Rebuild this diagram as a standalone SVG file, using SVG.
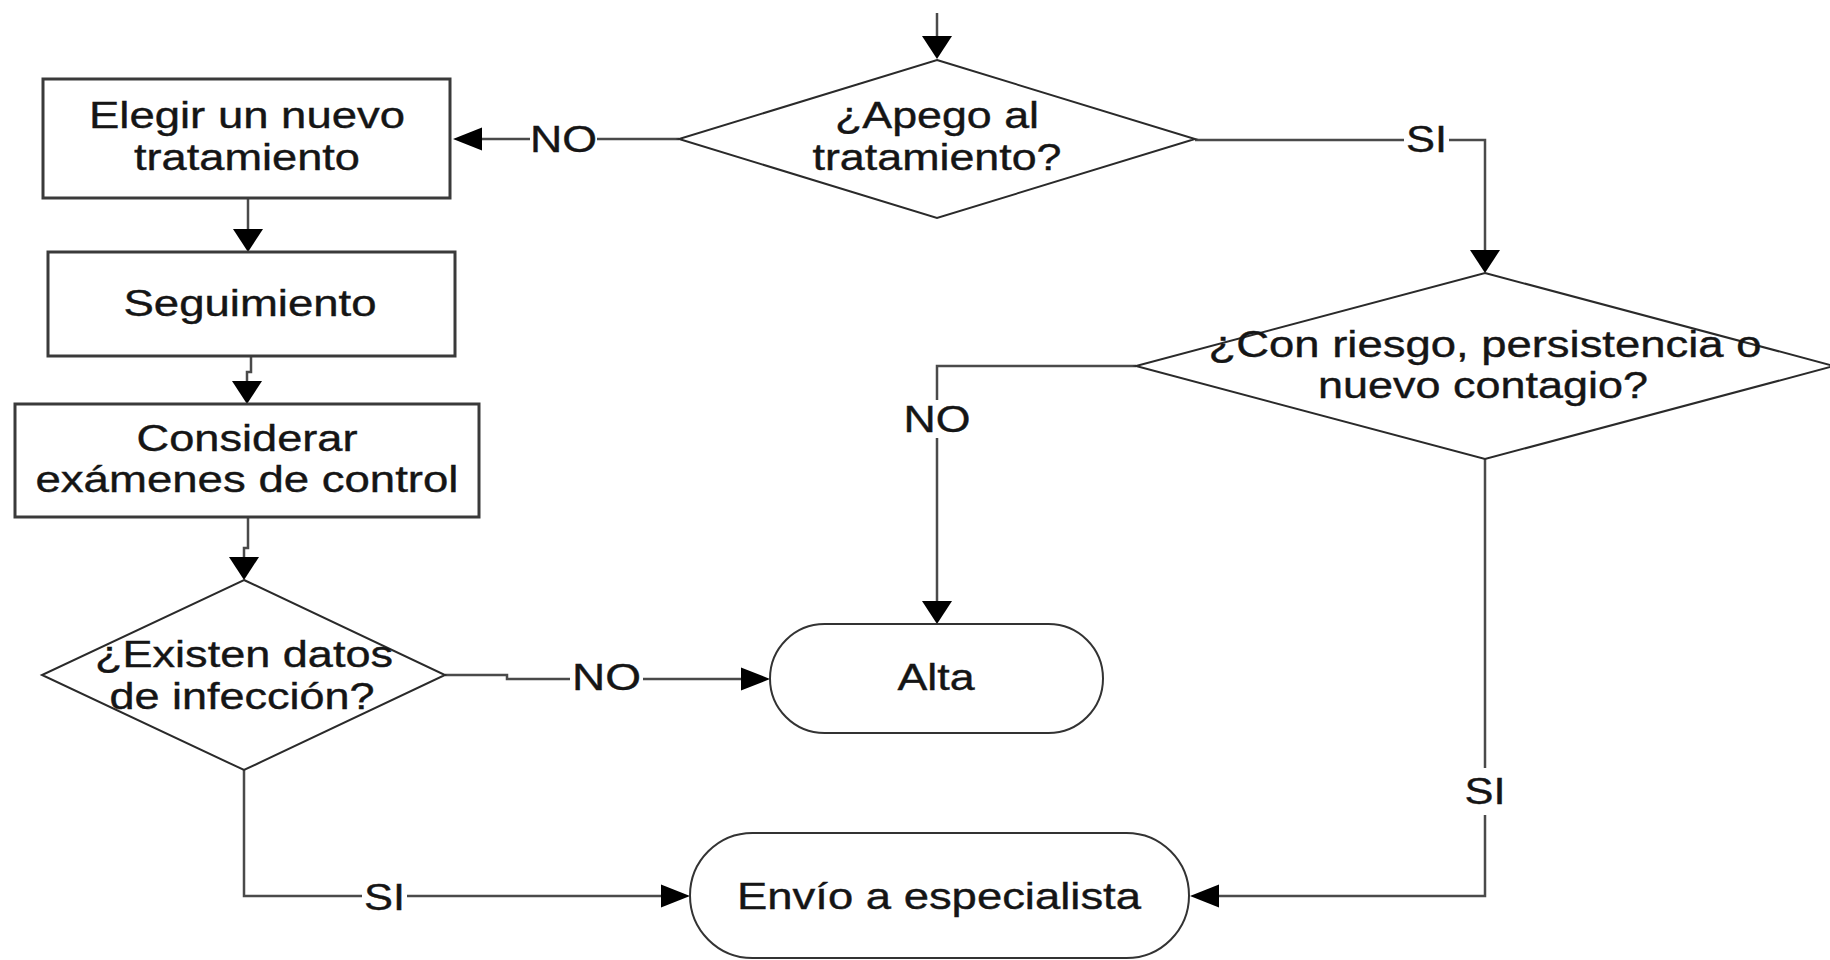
<svg xmlns="http://www.w3.org/2000/svg" width="1830" height="960" viewBox="0 0 1830 960">
<defs>
<style>
.box{fill:#fff;stroke:#3a3a3a;stroke-width:3}
.dia{fill:#fff;stroke:#2a2a2a;stroke-width:2}
.term{fill:#fff;stroke:#333;stroke-width:2}
.t{font-family:"Liberation Sans",Arial,sans-serif;font-size:37px;fill:#151515;stroke:#151515;stroke-width:0.4;text-anchor:middle}
.c{fill:none;stroke:#4a4a4a;stroke-width:2.5}
.cv{marker-end:url(#av)}
.ch{marker-end:url(#ah)}
</style>
<marker id="av" markerUnits="userSpaceOnUse" markerWidth="24" markerHeight="31" refX="0" refY="15" orient="auto" overflow="visible">
<path d="M0,0 L23,15 L0,30 Z" fill="#000"/>
</marker>
<marker id="ah" markerUnits="userSpaceOnUse" markerWidth="30" markerHeight="24" refX="0" refY="11.5" orient="auto" overflow="visible">
<path d="M0,0 L29,11.5 L0,23 Z" fill="#000"/>
</marker>
</defs>
<rect width="1830" height="960" fill="#fff"/>

<g id="connectors">
<path class="c cv" d="M937,13 V36"/>
<path class="c ch" d="M679,139 H597 M530,139 H482"/>
<path class="c cv" d="M1195,140 H1404 M1449,140 H1485 V250"/>
<path class="c cv" d="M248,198 V229"/>
<path class="c cv" d="M251,356 V372 H247 V381"/>
<path class="c cv" d="M248,517 V548 H244 V557"/>
<path class="c ch" d="M445,675 H507 V679 H570 M643,679 H741"/>
<path class="c cv" d="M1136,366 H937 V400 M937,438 V601"/>
<path class="c ch" d="M244,770 V896 H362 M407,896 H661"/>
<path class="c ch" d="M1485,459 V768 M1485,815 V896 H1219"/>
<text class="t" x="563.5" y="152" textLength="67" lengthAdjust="spacingAndGlyphs">NO</text>
<text class="t" x="1426.5" y="152" textLength="41" lengthAdjust="spacingAndGlyphs">SI</text>
<text class="t" x="937" y="432" textLength="67" lengthAdjust="spacingAndGlyphs">NO</text>
<text class="t" x="606.5" y="690" textLength="69" lengthAdjust="spacingAndGlyphs">NO</text>
<text class="t" x="1485" y="804" textLength="41" lengthAdjust="spacingAndGlyphs">SI</text>
<text class="t" x="384.5" y="910" textLength="41" lengthAdjust="spacingAndGlyphs">SI</text>
</g>

<g id="apego">
<polygon class="dia" points="937,60 1195,139 937,218 679,139"/>
<text class="t" x="937" y="128" textLength="204" lengthAdjust="spacingAndGlyphs">¿Apego al</text>
<text class="t" x="937" y="170" textLength="249" lengthAdjust="spacingAndGlyphs">tratamiento?</text>
</g>

<g id="elegir">
<rect class="box" x="43" y="79" width="407" height="119"/>
<text class="t" x="247" y="128" textLength="316" lengthAdjust="spacingAndGlyphs">Elegir un nuevo</text>
<text class="t" x="247" y="170" textLength="226" lengthAdjust="spacingAndGlyphs">tratamiento</text>
</g>

<g id="seguimiento">
<rect class="box" x="48" y="252" width="407" height="104"/>
<text class="t" x="250" y="316" textLength="253" lengthAdjust="spacingAndGlyphs">Seguimiento</text>
</g>

<g id="considerar">
<rect class="box" x="15" y="404" width="464" height="113"/>
<text class="t" x="247" y="451" textLength="221" lengthAdjust="spacingAndGlyphs">Considerar</text>
<text class="t" x="247" y="492" textLength="423" lengthAdjust="spacingAndGlyphs">exámenes de control</text>
</g>

<g id="existen">
<polygon class="dia" points="244,580 445,675 244,770 42,675"/>
<text class="t" x="244" y="667" textLength="298" lengthAdjust="spacingAndGlyphs">¿Existen datos</text>
<text class="t" x="242" y="709" textLength="265" lengthAdjust="spacingAndGlyphs">de infección?</text>
</g>

<g id="riesgo">
<polygon class="dia" points="1485,273 1834,366 1485,459 1136,366"/>
<text class="t" x="1485" y="357" textLength="553" lengthAdjust="spacingAndGlyphs">¿Con riesgo, persistencia o</text>
<text class="t" x="1483" y="398" textLength="330" lengthAdjust="spacingAndGlyphs">nuevo contagio?</text>
</g>

<g id="alta">
<rect class="term" x="770" y="624" width="333" height="109" rx="54.5" ry="54.5"/>
<text class="t" x="936" y="690" textLength="77" lengthAdjust="spacingAndGlyphs">Alta</text>
</g>

<g id="envio">
<rect class="term" x="690" y="833" width="499" height="125" rx="62.5" ry="62.5"/>
<text class="t" x="939" y="909" textLength="404" lengthAdjust="spacingAndGlyphs">Envío a especialista</text>
</g>
</svg>
